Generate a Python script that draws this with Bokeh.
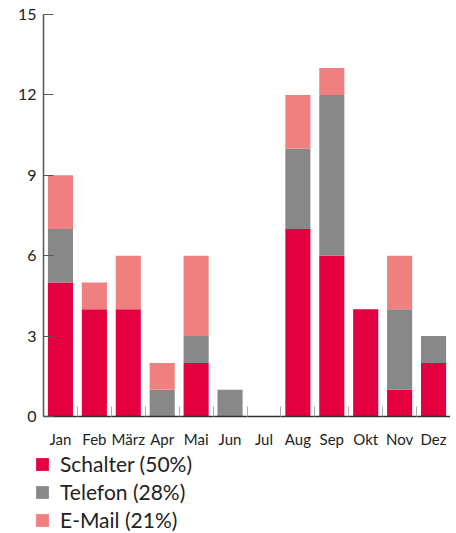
from bokeh.plotting import figure
from bokeh.models import ColumnDataSource, FixedTicker, Legend, LegendItem, Range1d
from bokeh.embed import file_html
from bokeh.resources import INLINE

months = ["Jan", "Feb", "März", "Apr", "Mai", "Jun", "Jul", "Aug", "Sep", "Okt", "Nov", "Dez"]
schalter = [5, 4, 4, 0, 2, 0, 0, 7, 6, 4, 1, 2]
telefon = [2, 0, 0, 1, 1, 1, 0, 3, 6, 0, 3, 1]
email = [2, 1, 2, 1, 3, 0, 0, 2, 1, 0, 2, 0]
series = ["Schalter", "Telefon", "E-Mail"]
legend_labels = ["Schalter (50%)", "Telefon (28%)", "E-Mail (21%)"]
colors = ["#E4003F", "#888888", "#F08080"]
y_ticks = [0, 3, 6, 9, 12, 15]

FONT = "Lato"

xs = list(range(len(months)))
source = ColumnDataSource(dict(x=xs, month=months, Schalter=schalter, Telefon=telefon, **{"E-Mail": email}))

p = figure(width=450, height=450, output_backend="svg", toolbar_location=None,
           x_range=Range1d(-0.5, len(months) - 0.5), y_range=Range1d(0, 15),
           min_border_left=43, min_border_right=0, min_border_top=14, min_border_bottom=30)
p.outline_line_color = None
p.xgrid.visible = False
p.ygrid.visible = False

rs = p.vbar_stack(series, x="x", width=0.74, color=colors, source=source, line_color=None)

# x axis
p.xaxis.ticker = FixedTicker(ticks=xs, minor_ticks=[i - 0.5 for i in range(len(months) + 1)])
p.xaxis.major_label_overrides = {i: m for i, m in zip(xs, months)}
p.xaxis.major_tick_line_color = None
p.xaxis.minor_tick_line_color = "#aaaaaa"
p.xaxis.minor_tick_in = 10
p.xaxis.minor_tick_out = 0
p.xaxis.axis_line_color = "#333333"
p.xaxis.axis_line_width = 1.5
p.xaxis.major_label_text_font = FONT
p.xaxis.major_label_text_font_size = "15px"
p.xaxis.major_label_text_color = "#222222"
p.xaxis.major_label_standoff = 7

# y axis
p.yaxis.ticker = FixedTicker(ticks=y_ticks, minor_ticks=[])
p.yaxis.major_tick_in = 10
p.yaxis.major_tick_out = 0
p.yaxis.major_tick_line_color = "#555555"
p.yaxis.axis_line_color = "#555555"
p.yaxis.axis_line_width = 1.5
p.yaxis.major_label_text_font = FONT
p.yaxis.major_label_text_font_size = "16px"
p.yaxis.major_label_text_color = "#222222"
p.yaxis.major_label_standoff = 7

# legend panel below the chart (its stacked bars lie outside its visible ranges; only swatches show)
lg = figure(width=450, height=83, output_backend="svg", toolbar_location=None,
            x_range=Range1d(100, 101), y_range=Range1d(100, 101),
            x_axis_type=None, y_axis_type=None, min_border=0)
lg.outline_line_color = None
lg.xgrid.visible = False
lg.ygrid.visible = False
swatches = lg.vbar_stack(series, x="x", width=0.74, color=colors, source=source, line_color=None)

legend = Legend(items=[LegendItem(label=l, renderers=[r]) for l, r in zip(legend_labels, swatches)],
                location=(34, 1), orientation="vertical")
legend.label_text_font = FONT
legend.label_text_font_size = "21px"
legend.label_text_color = "#222222"
legend.glyph_width = 16
legend.glyph_height = 16
legend.label_height = 23
legend.label_standoff = 10
legend.spacing = 3
legend.padding = 0
legend.margin = 0
legend.border_line_color = None
legend.background_fill_alpha = 0
lg.add_layout(legend, "center")

open("out.html", "w").write(file_html((p, lg), INLINE))
